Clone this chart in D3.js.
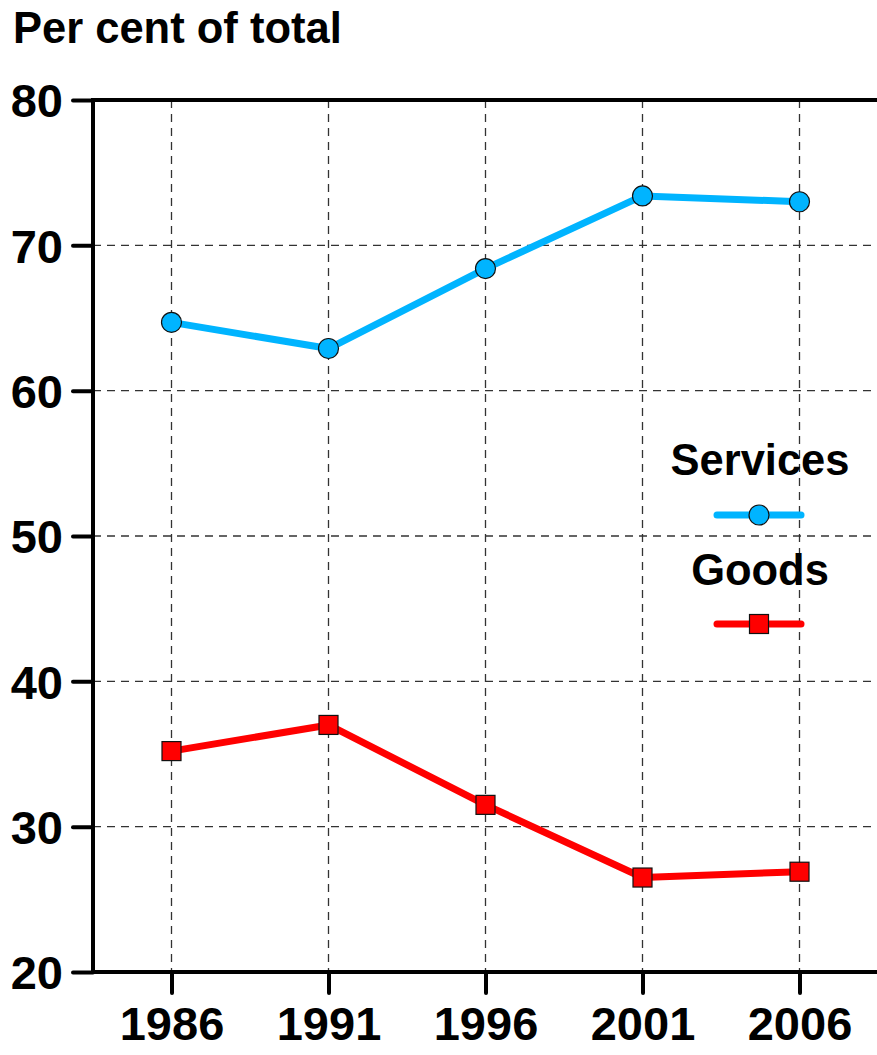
<!DOCTYPE html>
<html><head><meta charset="utf-8">
<script src="https://cdn.jsdelivr.net/npm/d3@7"></script>
<style>body{margin:0;background:#fff}svg{display:block}text{font-family:"Liberation Sans",Arial,sans-serif;font-weight:bold}</style>
</head><body>
<script>
const years = [1986, 1991, 1996, 2001, 2006];
const services = [64.7, 62.9, 68.4, 73.4, 73.0];
const goods = [35.2, 37.0, 31.5, 26.5, 26.9];
const yTicks = [20, 30, 40, 50, 60, 70, 80];
const seriesNames = ["Services", "Goods"];

const W = 877, H = 1055;
const svg = d3.select("body").append("svg").attr("width", W).attr("height", H);
const x = d3.scaleLinear().domain([1983.5, 2008.5]).range([93, 878]);
const y = d3.scaleLinear().domain([20, 80]).range([972, 100]);

// grid
const grid = svg.append("g").attr("stroke", "#333").attr("stroke-width", 1.3).attr("stroke-dasharray", "8,6");
grid.selectAll("line.h").data(yTicks.filter(d => d > 20 && d < 80)).join("line")
  .attr("x1", x.range()[0]).attr("x2", W).attr("y1", d => y(d)).attr("y2", d => y(d));
grid.selectAll("line.v").data(years).join("line")
  .attr("x1", d => x(d)).attr("x2", d => x(d)).attr("y1", y(80)).attr("y2", y(20));

// axes
const yAxis = d3.axisLeft(y).tickValues(yTicks).tickSize(20).tickPadding(10);
const gy = svg.append("g").attr("transform", `translate(${x.range()[0]},0)`).call(yAxis);
const xAxis = d3.axisBottom(x).tickValues(years).tickFormat(d3.format("d")).tickSize(21).tickPadding(14);
const gx = svg.append("g").attr("transform", `translate(0,${y(20)})`).call(xAxis);
[gy, gx].forEach(g => {
  g.select(".domain").remove();
  g.selectAll(".tick line").attr("stroke", "#000").attr("stroke-width", 4).attr("stroke-linecap", "round");
  g.selectAll(".tick text").attr("fill", "#000").style("font-size", "47px").style("font-family", "Liberation Sans, Arial, sans-serif").style("font-weight", "bold");
});
gy.selectAll(".tick text").attr("dy", "0.36em");
gx.selectAll(".tick text").attr("dy", "0.71em");
// frame lines
svg.append("line").attr("x1", x.range()[0]).attr("x2", W).attr("y1", y(80)).attr("y2", y(80)).attr("stroke", "#000").attr("stroke-width", 4);
svg.append("line").attr("x1", x.range()[0]).attr("x2", W).attr("y1", y(20)).attr("y2", y(20)).attr("stroke", "#000").attr("stroke-width", 4);
svg.append("line").attr("x1", x.range()[0]).attr("x2", x.range()[0]).attr("y1", y(80) - 2).attr("y2", y(20) + 2).attr("stroke", "#000").attr("stroke-width", 4);

// title
svg.append("text").attr("x", 13).attr("y", 43).style("font-size", "43.5px").attr("fill", "#000").text("Per cent of total");

const blue = "#00B4FF", red = "#FF0000";
const line = d3.line().x((d, i) => x(years[i])).y(d => y(d));
svg.append("path").datum(services).attr("d", line).attr("fill", "none").attr("stroke", blue).attr("stroke-width", 7).attr("stroke-linejoin", "round");
svg.append("path").datum(goods).attr("d", line).attr("fill", "none").attr("stroke", red).attr("stroke-width", 7).attr("stroke-linejoin", "round");
svg.selectAll("circle.s").data(services).join("circle").attr("cx", (d, i) => x(years[i])).attr("cy", d => y(d)).attr("r", 10)
  .attr("fill", blue).attr("stroke", "#111").attr("stroke-width", 1.2);
svg.selectAll("rect.g").data(goods).join("rect").attr("x", (d, i) => x(years[i]) - 9.5).attr("y", d => y(d) - 9.5).attr("width", 19).attr("height", 19)
  .attr("fill", red).attr("stroke", "#111").attr("stroke-width", 1.2);

// legend
const leg = [
  { name: seriesNames[0], color: blue, ty: 475, ly: 515, mark: "circle" },
  { name: seriesNames[1], color: red, ty: 585, ly: 624, mark: "rect" }
];
leg.forEach(l => {
  svg.append("text").attr("x", 760).attr("y", l.ty).attr("text-anchor", "middle").style("font-size", "43.5px").attr("fill", "#000").text(l.name);
  svg.append("line").attr("x1", 717).attr("x2", 801).attr("y1", l.ly).attr("y2", l.ly).attr("stroke", l.color).attr("stroke-width", 7).attr("stroke-linecap", "round");
  if (l.mark === "circle") svg.append("circle").attr("cx", 759).attr("cy", l.ly).attr("r", 10).attr("fill", l.color).attr("stroke", "#111").attr("stroke-width", 1.2);
  else svg.append("rect").attr("x", 749.5).attr("y", l.ly - 9.5).attr("width", 19).attr("height", 19).attr("fill", l.color).attr("stroke", "#111").attr("stroke-width", 1.2);
});
</script>
</body></html>
